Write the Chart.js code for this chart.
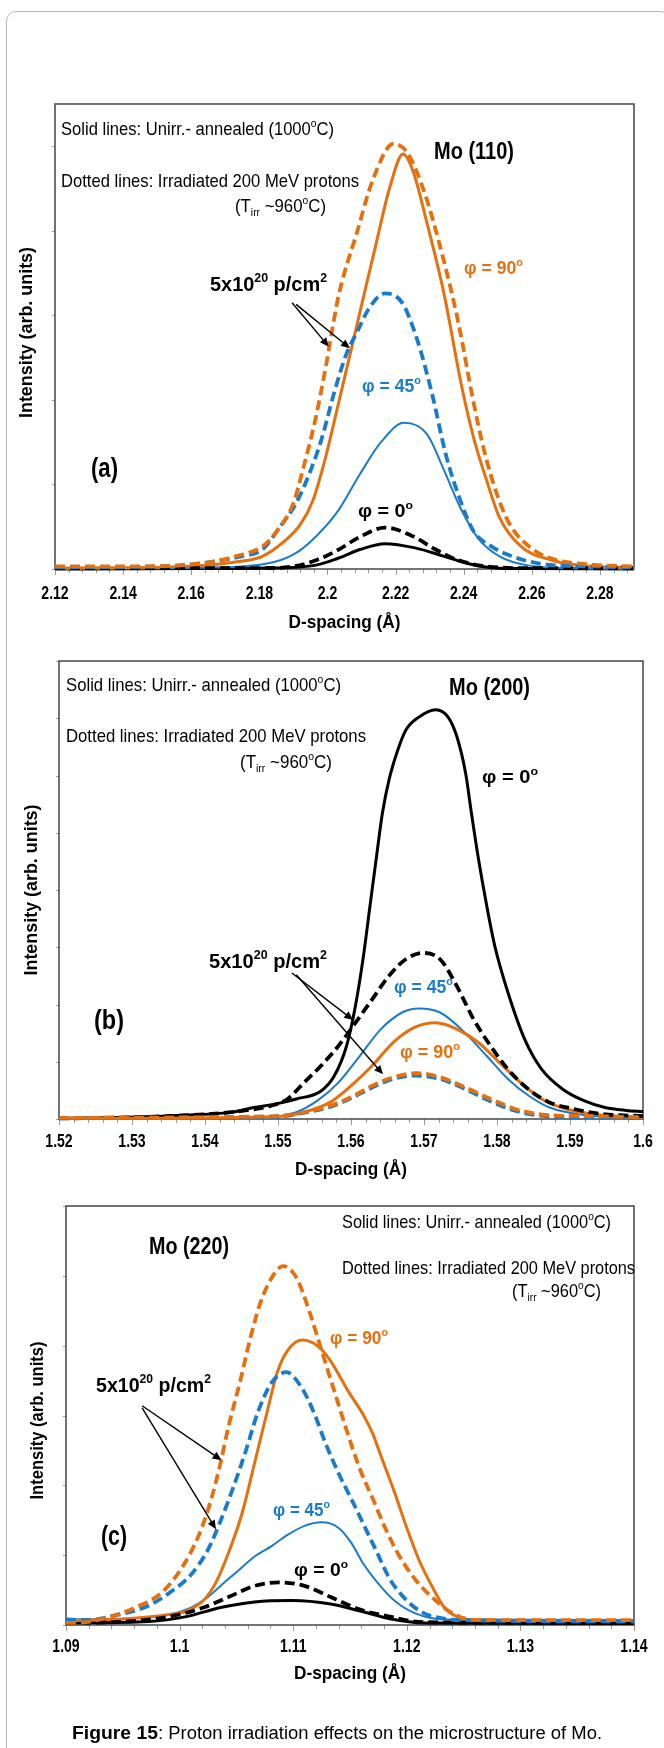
<!DOCTYPE html>
<html>
<head>
<meta charset="utf-8">
<script src="https://cdn.jsdelivr.net/npm/chart.js@4.4.0/dist/chart.umd.min.js"></script>
<style>
    html, body { margin: 0; padding: 0; background: #fff; }
    body { width: 664px; height: 1748px; position: relative; overflow: hidden; }
    .page { position: absolute; left: 6px; top: 11px; width: 664px; height: 1800px;
            border: 1px solid #b8b8b8; border-radius: 10px; box-sizing: border-box; }
    canvas { position: absolute; left: 0; }
</style>
</head>
<body>
<div class="page"></div>
<canvas id="chartA" width="664" height="645" style="top:0px"></canvas>
<canvas id="chartB" width="664" height="550" style="top:645px"></canvas>
<canvas id="chartC" width="664" height="553" style="top:1195px"></canvas>

<script>
// ===========================
// DATA (intensity in arb. units, d-spacing in Å)
// ===========================

// (a) Mo (110)
const aTicks = [2.12, 2.14, 2.16, 2.18, 2.20, 2.22, 2.24, 2.26, 2.28];
const aTickLabels = ['2.12', '2.14', '2.16', '2.18', '2.2', '2.22', '2.24', '2.26', '2.28'];

const a90IrrX = [2.12, 2.14, 2.155, 2.166, 2.173, 2.181, 2.185, 2.190, 2.193, 2.1964, 2.1995, 2.2013, 2.2033, 2.2088, 2.2132, 2.2194, 2.2235, 2.2285, 2.2335, 2.2385, 2.2425, 2.246, 2.2498, 2.2535, 2.2597, 2.266, 2.278, 2.29];
const a90IrrY = [0.03, 0.03, 0.04, 0.085, 0.15, 0.27, 0.44, 0.78, 1.21, 1.76, 2.39, 2.81, 3.24, 4.0, 4.59, 5.03, 4.92, 4.45, 3.75, 2.9, 2.05, 1.4, 0.88, 0.53, 0.25, 0.12, 0.05, 0.03];
const a90UnX = [2.12, 2.16, 2.1734, 2.1809, 2.1871, 2.1921, 2.1958, 2.1995, 2.2033, 2.207, 2.2107, 2.2144, 2.2182, 2.2222, 2.225, 2.2293, 2.2343, 2.2393, 2.243, 2.2468, 2.2505, 2.2567, 2.2654, 2.278, 2.29];
const a90UnY = [0.01, 0.034, 0.085, 0.15, 0.32, 0.53, 0.82, 1.33, 1.97, 2.6, 3.24, 3.87, 4.5, 4.91, 4.72, 4.08, 3.24, 2.18, 1.54, 1.04, 0.61, 0.27, 0.11, 0.03, 0.02];
const a45IrrX = [2.12, 2.154, 2.166, 2.1747, 2.1809, 2.1859, 2.1908, 2.1946, 2.1983, 2.202, 2.2057, 2.2088, 2.212, 2.2169, 2.2219, 2.2262, 2.2306, 2.2349, 2.2393, 2.243, 2.248, 2.2542, 2.2629, 2.278, 2.29];
const a45IrrY = [0.02, 0.034, 0.085, 0.15, 0.23, 0.49, 0.78, 1.12, 1.54, 2.09, 2.56, 2.81, 3.07, 3.26, 3.15, 2.73, 2.09, 1.33, 0.78, 0.44, 0.27, 0.15, 0.06, 0.03, 0.02];
const a45UnX = [2.12, 2.17, 2.1846, 2.1908, 2.197, 2.2033, 2.2095, 2.2157, 2.2225, 2.2293, 2.2343, 2.2393, 2.2443, 2.2505, 2.2592, 2.272, 2.29];
const a45UnY = [0.0, 0.02, 0.085, 0.19, 0.40, 0.70, 1.12, 1.5, 1.73, 1.59, 1.16, 0.70, 0.36, 0.15, 0.04, 0.01, 0.0];
const a0IrrX = [2.12, 2.18, 2.19, 2.197, 2.2033, 2.2095, 2.2169, 2.2244, 2.2318, 2.238, 2.2468, 2.26, 2.29];
const a0IrrY = [0.01, 0.01, 0.03, 0.11, 0.23, 0.38, 0.49, 0.40, 0.23, 0.11, 0.03, 0.01, 0.01];
const a0UnX = [2.12, 2.18, 2.1958, 2.2033, 2.2095, 2.2169, 2.2257, 2.2343, 2.2418, 2.2505, 2.26, 2.29];
const a0UnY = [0.0, 0.01, 0.04, 0.13, 0.23, 0.30, 0.25, 0.15, 0.06, 0.01, 0.005, 0.0];

// (b) Mo (200)
const bTicks = [1.52, 1.53, 1.54, 1.55, 1.56, 1.57, 1.58, 1.59, 1.60];
const bTickLabels = ['1.52', '1.53', '1.54', '1.55', '1.56', '1.57', '1.58', '1.59', '1.6'];

const b0UnX = [1.52, 1.5293, 1.538, 1.5438, 1.5467, 1.5496, 1.5525, 1.5559, 1.5577, 1.5594, 1.5606, 1.5617, 1.5626, 1.5635, 1.5643, 1.5652, 1.5664, 1.5675, 1.5693, 1.5716, 1.5733, 1.5745, 1.5757, 1.5765, 1.5774, 1.5786, 1.5797, 1.5815, 1.5838, 1.5861, 1.589, 1.5919, 1.5948, 1.5977, 1.6];
const b0UnY = [0.01, 0.03, 0.07, 0.12, 0.20, 0.26, 0.35, 0.49, 0.75, 1.28, 1.97, 2.84, 3.72, 4.59, 5.34, 5.92, 6.44, 6.79, 7.02, 7.15, 7.02, 6.68, 6.04, 5.34, 4.59, 3.72, 3.02, 2.21, 1.39, 0.87, 0.52, 0.32, 0.20, 0.15, 0.13];
const b0IrrX = [1.52, 1.53, 1.5409, 1.5455, 1.549, 1.5513, 1.5536, 1.5559, 1.5583, 1.5606, 1.5629, 1.5652, 1.5675, 1.5699, 1.5722, 1.5745, 1.5768, 1.5791, 1.5815, 1.5843, 1.5872, 1.5907, 1.5942, 1.6];
const b0IrrY = [0.01, 0.03, 0.09, 0.15, 0.23, 0.35, 0.64, 0.93, 1.28, 1.68, 2.09, 2.50, 2.79, 2.90, 2.79, 2.32, 1.74, 1.28, 0.87, 0.52, 0.29, 0.17, 0.09, 0.05];
const b45UnX = [1.52, 1.548, 1.5525, 1.5554, 1.5583, 1.5612, 1.5641, 1.567, 1.5693, 1.5722, 1.5751, 1.5786, 1.5815, 1.5843, 1.5872, 1.5919, 1.6];
const b45UnY = [0.01, 0.03, 0.12, 0.32, 0.64, 1.10, 1.57, 1.86, 1.93, 1.86, 1.57, 1.10, 0.70, 0.41, 0.20, 0.07, 0.02];
const b90UnX = [1.52, 1.5496, 1.5536, 1.5571, 1.56, 1.5629, 1.5658, 1.5687, 1.5716, 1.5745, 1.5774, 1.5803, 1.5832, 1.5861, 1.5896, 1.5942, 1.6];
const b90UnY = [0.01, 0.04, 0.12, 0.29, 0.58, 0.93, 1.34, 1.60, 1.68, 1.57, 1.34, 0.99, 0.64, 0.35, 0.17, 0.07, 0.03];
const b90IrrX = [1.52, 1.5496, 1.5536, 1.5571, 1.56, 1.5629, 1.5658, 1.569, 1.5722, 1.5757, 1.5791, 1.5826, 1.5867, 1.593, 1.6];
const b90IrrY = [0.02, 0.05, 0.12, 0.23, 0.38, 0.58, 0.73, 0.80, 0.73, 0.55, 0.35, 0.17, 0.07, 0.05, 0.03];
const b45IrrX = [1.52, 1.5496, 1.5536, 1.5571, 1.56, 1.5629, 1.5658, 1.5687, 1.5722, 1.5757, 1.5791, 1.5826, 1.5867, 1.593, 1.6];
const b45IrrY = [0.02, 0.04, 0.11, 0.21, 0.36, 0.55, 0.70, 0.76, 0.70, 0.52, 0.31, 0.14, 0.05, 0.03, 0.02];

// (c) Mo (220)
const cTicks = [1.09, 1.10, 1.11, 1.12, 1.13, 1.14];
const cTickLabels = ['1.09', '1.1', '1.11', '1.12', '1.13', '1.14'];

const c90IrrX = [1.09, 1.0917, 1.0939, 1.0961, 1.0984, 1.1002, 1.1017, 1.1028, 1.1036, 1.1043, 1.1053, 1.1062, 1.1071, 1.1081, 1.1091, 1.1103, 1.1114, 1.1125, 1.1136, 1.1148, 1.1159, 1.117, 1.1181, 1.1192, 1.1207, 1.1222, 1.1237, 1.1252, 1.127, 1.1326, 1.14];
const c90IrrY = [0.03, 0.04, 0.12, 0.25, 0.46, 0.82, 1.29, 1.81, 2.32, 2.84, 3.47, 4.09, 4.61, 4.97, 5.14, 4.97, 4.50, 3.93, 3.36, 2.74, 2.22, 1.81, 1.39, 1.03, 0.66, 0.40, 0.20, 0.09, 0.07, 0.07, 0.07];
const c90UnX = [1.09, 1.0917, 1.0954, 1.0991, 1.1006, 1.1021, 1.1032, 1.1043, 1.1055, 1.1066, 1.1077, 1.1086, 1.1095, 1.1108, 1.1122, 1.1133, 1.1148, 1.1162, 1.117, 1.1177, 1.1189, 1.12, 1.1211, 1.1222, 1.1233, 1.1244, 1.1259, 1.14];
const c90UnY = [0.05, 0.07, 0.09, 0.15, 0.20, 0.35, 0.61, 1.03, 1.60, 2.32, 3.05, 3.62, 3.93, 4.08, 3.99, 3.78, 3.36, 3.00, 2.74, 2.43, 1.91, 1.39, 0.92, 0.56, 0.25, 0.12, 0.07, 0.05];
const c45IrrX = [1.09, 1.0917, 1.0947, 1.0973, 1.0991, 1.101, 1.1025, 1.1036, 1.1047, 1.1058, 1.1069, 1.1081, 1.1094, 1.1107, 1.1118, 1.1129, 1.114, 1.1151, 1.1162, 1.1174, 1.1185, 1.12, 1.1215, 1.1233, 1.125, 1.14];
const c45IrrY = [0.08, 0.07, 0.15, 0.28, 0.46, 0.72, 1.08, 1.49, 1.96, 2.48, 3.05, 3.47, 3.62, 3.41, 3.05, 2.58, 2.17, 1.81, 1.44, 1.03, 0.66, 0.35, 0.17, 0.09, 0.07, 0.05];
const c45UnX = [1.09, 1.0954, 1.0991, 1.101, 1.1025, 1.1036, 1.1051, 1.1066, 1.1081, 1.1095, 1.111, 1.1125, 1.114, 1.1151, 1.1162, 1.1174, 1.1189, 1.1207, 1.1233, 1.14];
const c45UnY = [0.08, 0.09, 0.15, 0.25, 0.40, 0.56, 0.77, 0.98, 1.13, 1.29, 1.42, 1.47, 1.39, 1.18, 0.87, 0.61, 0.35, 0.17, 0.08, 0.07];
const c0IrrX = [1.09, 1.0954, 1.0991, 1.1021, 1.1043, 1.1066, 1.1088, 1.111, 1.1133, 1.1159, 1.1185, 1.1215, 1.14];
const c0IrrY = [0.03, 0.05, 0.12, 0.25, 0.40, 0.56, 0.61, 0.56, 0.40, 0.22, 0.12, 0.04, 0.03];
const c0UnX = [1.09, 1.0973, 1.1006, 1.1036, 1.1066, 1.1099, 1.1133, 1.1159, 1.1185, 1.1215, 1.14];
const c0UnY = [0.03, 0.05, 0.12, 0.25, 0.33, 0.35, 0.30, 0.20, 0.09, 0.03, 0.02];

// ===========================
// STYLE
// ===========================
const ORANGE = '#E6700E';
const BLUE = '#1A7BCB';
const BLACK = '#000000';
const FONT = '"Liberation Sans", Arial, sans-serif';

function series(xs, ys, color, dashed, width) {
    return {
        data: xs.map((x, i) => ({ x: x, y: ys[i] })),
        borderColor: color,
        borderWidth: width,
        borderDash: dashed ? [10, 5] : [],
        pointRadius: 0,
        fill: false,
        cubicInterpolationMode: 'monotone',
        clip: { left: 0, top: 0, right: 0, bottom: 4 }
    };
}

// split 'a^{b}c_{d}' into normal / superscript / subscript runs
function richSegs(str) {
    const out = [];
    const re = /([\^_])\{([^}]*)\}/g;
    let last = 0, m;
    while ((m = re.exec(str))) {
        if (m.index > last) out.push({ t: str.slice(last, m.index), k: 0 });
        out.push({ t: m[2], k: m[1] === '^' ? 1 : -1 });
        last = re.lastIndex;
    }
    if (last < str.length) out.push({ t: str.slice(last), k: 0 });
    return out;
}

function drawRich(ctx, item) {
    const segs = richSegs(item.text);
    const weight = item.bold ? 'bold ' : '';
    const fontFor = s => weight + (s.k ? item.size * 0.62 : item.size) + 'px ' + FONT;
    let total = 0;
    segs.forEach(s => {
        ctx.font = fontFor(s);
        s.w = ctx.measureText(s.t).width;
        total += s.w;
    });
    const sx = item.w ? item.w / total : (item.sx || 1);
    ctx.save();
    ctx.translate(item.x, item.y);
    if (item.rot) ctx.rotate(item.rot);
    ctx.scale(sx, 1);
    let cx = item.align === 'center' ? -total / 2 : 0;
    ctx.fillStyle = item.color || BLACK;
    ctx.textBaseline = 'middle';
    segs.forEach(s => {
        ctx.font = fontFor(s);
        const dy = s.k === 1 ? -item.size * 0.32 : (s.k === -1 ? item.size * 0.28 : 0);
        ctx.fillText(s.t, cx, dy);
        cx += s.w;
    });
    ctx.restore();
}

function arrow(ctx, x0, y0, x1, y1) {
    const ang = Math.atan2(y1 - y0, x1 - x0);
    const len = 9, half = 4;
    ctx.beginPath();
    ctx.moveTo(x0, y0);
    ctx.lineTo(x1 - Math.cos(ang) * len * 0.8, y1 - Math.sin(ang) * len * 0.8);
    ctx.stroke();
    ctx.beginPath();
    ctx.moveTo(x1, y1);
    ctx.lineTo(x1 - Math.cos(ang) * len - Math.sin(ang) * half, y1 - Math.sin(ang) * len + Math.cos(ang) * half);
    ctx.lineTo(x1 - Math.cos(ang) * len + Math.sin(ang) * half, y1 - Math.sin(ang) * len - Math.cos(ang) * half);
    ctx.closePath();
    ctx.fill();
}

// per-chart decorations, keyed by canvas id
const figs = {};

const figurePlugin = {
    id: 'figure',
    beforeDatasetsDraw(chart) {
        const f = figs[chart.canvas.id];
        if (!f) return;
        const { ctx, chartArea: a, scales: { x, y } } = chart;
        ctx.save();

        // y tick marks (no labels)
        ctx.strokeStyle = '#a0a0a0';
        ctx.lineWidth = 1;
        for (let v = 0; v <= f.yMax; v += 1) {
            const py = Math.round(y.getPixelForValue(v)) + 0.5;
            ctx.beginPath();
            ctx.moveTo(a.left - 3, py);
            ctx.lineTo(a.left, py);
            ctx.stroke();
        }

        // x tick marks: minor + major
        ctx.strokeStyle = '#9a9a9a';
        const n = Math.round((x.max - x.min) / f.minor);
        for (let i = 0; i <= n; i++) {
            const v = x.min + i * f.minor;
            if (v > x.max + 1e-9) break;
            const px = Math.round(x.getPixelForValue(v)) + 0.5;
            const major = f.ticks.some(t => Math.abs(t - v) < f.minor / 10);
            ctx.beginPath();
            ctx.moveTo(px, a.bottom);
            ctx.lineTo(px, a.bottom + (major ? 6 : 4));
            ctx.stroke();
        }

        // frame
        ctx.strokeStyle = '#505050';
        ctx.lineWidth = 1.6;
        ctx.strokeRect(a.left, a.top, a.right - a.left, a.bottom - a.top);
        ctx.restore();
    },
    afterDatasetsDraw(chart) {
        const f = figs[chart.canvas.id];
        if (!f) return;
        const { ctx, chartArea: a, scales: { x, y } } = chart;
        ctx.save();

        // x tick labels
        f.ticks.forEach((v, i) => {
            drawRich(ctx, { text: f.labels[i], x: x.getPixelForValue(v), y: f.labelY,
                size: 19, bold: true, sx: 0.74, align: 'center' });
        });

        // axis titles
        drawRich(ctx, { text: 'D-spacing (Å)', x: (a.left + a.right) / 2, y: f.titleY,
            size: 19, bold: true, w: 112, align: 'center' });
        drawRich(ctx, { text: 'Intensity (arb. units)', x: f.yTitleX, y: (a.top + a.bottom) / 2 - f.yTitleShift,
            size: 18, bold: true, w: f.yTitleW, align: 'center', rot: -Math.PI / 2 });

        // annotation text
        f.notes.forEach(n => drawRich(ctx, n));

        // arrows (given in data coordinates)
        ctx.strokeStyle = BLACK;
        ctx.fillStyle = BLACK;
        ctx.lineWidth = 1.4;
        f.arrows.forEach(ar => {
            arrow(ctx, x.getPixelForValue(ar[0]), y.getPixelForValue(ar[1]),
                x.getPixelForValue(ar[2]), y.getPixelForValue(ar[3]));
        });

        if (f.caption) {
            drawRich(ctx, { text: 'Figure 15', x: 72, y: f.caption, size: 18, bold: true, w: 86 });
            drawRich(ctx, { text: ': Proton irradiation effects on the microstructure of Mo.', x: 158, y: f.caption, size: 18, w: 444 });
        }
        ctx.restore();
    }
};

function makeChart(id, xMin, xMax, yMax, pad, datasets) {
    return new Chart(document.getElementById(id), {
        type: 'line',
        data: { datasets: datasets },
        options: {
            responsive: false,
            animation: false,
            events: [],
            layout: { padding: pad },
            plugins: {
                legend: { display: false },
                tooltip: { enabled: false }
            },
            scales: {
                x: { type: 'linear', min: xMin, max: xMax, display: false },
                y: { type: 'linear', min: 0, max: yMax, display: false }
            }
        },
        plugins: [figurePlugin]
    });
}

const THIN = 2, SOLID = 3, DASH = 3.8;

// ===========================
// CHART (a)
// ===========================
figs.chartA = {
    yMax: 5.5, minor: 0.004, ticks: aTicks, labels: aTickLabels,
    labelY: 594, titleY: 623, yTitleX: 27, yTitleShift: 4, yTitleW: 171,
    notes: [
        { text: 'Solid lines: Unirr.- annealed (1000^{o}C)', x: 61, y: 130, w: 273, size: 19 },
        { text: 'Dotted lines: Irradiated 200 MeV protons', x: 61, y: 182, w: 298, size: 19 },
        { text: '(T_{irr} ~960^{o}C)', x: 235, y: 207, w: 91, size: 19 },
        { text: 'Mo (110)', x: 434, y: 153, w: 80, size: 23, bold: true },
        { text: 'φ = 90^{o}', x: 464, y: 269, w: 59, size: 19, bold: true, color: ORANGE },
        { text: '5x10^{20} p/cm^{2}', x: 210, y: 285, w: 117, size: 21, bold: true },
        { text: 'φ = 45^{o}', x: 362, y: 387, w: 59, size: 19, bold: true, color: BLUE },
        { text: '(a)', x: 91, y: 469, w: 27, size: 28, bold: true },
        { text: 'φ = 0^{o}', x: 358, y: 512, w: 55, size: 19, bold: true }
    ],
    arrows: [[2.1896, 3.15, 2.2004, 2.63], [2.1908, 3.13, 2.2066, 2.61]]
};
makeChart('chartA', 2.12, 2.29, 5.5, { left: 55, top: 104, right: 30, bottom: 76 }, [
    series(a90IrrX, a90IrrY, ORANGE, true, DASH),
    series(a45IrrX, a45IrrY, BLUE, true, DASH),
    series(a0IrrX, a0IrrY, BLACK, true, DASH),
    series(a90UnX, a90UnY, ORANGE, false, SOLID),
    series(a45UnX, a45UnY, BLUE, false, THIN),
    series(a0UnX, a0UnY, BLACK, false, SOLID)
]);

// ===========================
// CHART (b)
// ===========================
figs.chartB = {
    yMax: 8, minor: 0.002, ticks: bTicks, labels: bTickLabels,
    labelY: 497, titleY: 525, yTitleX: 32, yTitleShift: 0, yTitleW: 171,
    notes: [
        { text: 'Solid lines: Unirr.- annealed (1000^{o}C)', x: 66, y: 41, w: 275, size: 19 },
        { text: 'Dotted lines: Irradiated 200 MeV protons', x: 66, y: 92, w: 300, size: 19 },
        { text: '(T_{irr} ~960^{o}C)', x: 240, y: 118, w: 92, size: 19 },
        { text: 'Mo (200)', x: 449, y: 44, w: 81, size: 23, bold: true },
        { text: 'φ = 0^{o}', x: 482, y: 133, w: 56, size: 19, bold: true },
        { text: '5x10^{20} p/cm^{2}', x: 209, y: 317, w: 118, size: 21, bold: true },
        { text: 'φ = 45^{o}', x: 394, y: 343, w: 59, size: 19, bold: true, color: BLUE },
        { text: '(b)', x: 94, y: 376, w: 30, size: 28, bold: true },
        { text: 'φ = 90^{o}', x: 400, y: 408, w: 60, size: 19, bold: true, color: ORANGE }
    ],
    arrows: [[1.5519, 2.55, 1.5603, 1.73], [1.5525, 2.52, 1.5644, 0.78]]
};
makeChart('chartB', 1.52, 1.6, 8, { left: 59, top: 16, right: 21, bottom: 76 }, [
    series(b90IrrX, b90IrrY, ORANGE, true, DASH),
    series(b45IrrX, b45IrrY, BLUE, true, DASH),
    series(b0IrrX, b0IrrY, BLACK, true, DASH),
    series(b90UnX, b90UnY, ORANGE, false, SOLID),
    series(b45UnX, b45UnY, BLUE, false, THIN),
    series(b0UnX, b0UnY, BLACK, false, SOLID)
]);

// ===========================
// CHART (c)
// ===========================
figs.chartC = {
    yMax: 6, minor: 0.002, ticks: cTicks, labels: cTickLabels,
    labelY: 452, titleY: 479, yTitleX: 38, yTitleShift: -5, yTitleW: 158,
    caption: 539,
    notes: [
        { text: 'Solid lines: Unirr.- annealed (1000^{o}C)', x: 342, y: 28, w: 269, size: 19 },
        { text: 'Dotted lines: Irradiated 200 MeV protons', x: 342, y: 74, w: 293, size: 19 },
        { text: '(T_{irr} ~960^{o}C)', x: 512, y: 97, w: 89, size: 19 },
        { text: 'Mo (220)', x: 149, y: 53, w: 80, size: 23, bold: true },
        { text: 'φ = 90^{o}', x: 330, y: 144, w: 58, size: 19, bold: true, color: ORANGE },
        { text: '5x10^{20} p/cm^{2}', x: 96, y: 191, w: 115, size: 21, bold: true },
        { text: 'φ = 45^{o}', x: 273, y: 316, w: 57, size: 19, bold: true, color: BLUE },
        { text: '(c)', x: 101, y: 342, w: 26, size: 28, bold: true },
        { text: 'φ = 0^{o}', x: 294, y: 376, w: 54, size: 19, bold: true }
    ],
    arrows: [[1.0967, 3.14, 1.1037, 2.36], [1.0967, 3.11, 1.1032, 1.37]]
};
makeChart('chartC', 1.09, 1.14, 6, { left: 66, top: 11, right: 30, bottom: 123 }, [
    series(c90IrrX, c90IrrY, ORANGE, true, DASH),
    series(c45IrrX, c45IrrY, BLUE, true, DASH),
    series(c0IrrX, c0IrrY, BLACK, true, DASH),
    series(c90UnX, c90UnY, ORANGE, false, SOLID),
    series(c45UnX, c45UnY, BLUE, false, THIN),
    series(c0UnX, c0UnY, BLACK, false, SOLID)
]);
</script>
</body>
</html>
